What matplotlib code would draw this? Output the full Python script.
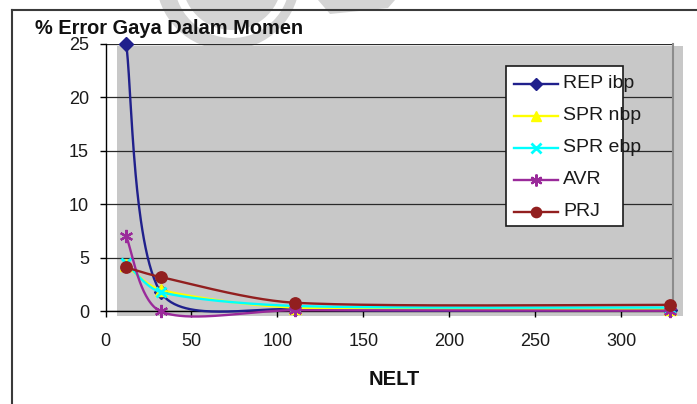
import numpy as np
import matplotlib
matplotlib.use("Agg")
import matplotlib.pyplot as plt
from matplotlib.patches import Rectangle, Wedge, Circle, Polygon

plt.rcParams['font.family'] = ['Liberation Sans', 'DejaVu Sans']

# ---- data -------------------------------------------------------------
nelt = [12, 32, 110, 328]
series_names = ["REP ibp", "SPR nbp", "SPR ebp", "AVR", "PRJ"]
rep_ibp = [25.0, 1.8, 0.2, 0.1]
spr_nbp = [4.3, 2.0, 0.35, 0.25]
spr_ebp = [4.5, 1.8, 0.5, 0.35]
avr = [7.0, 0.0, 0.1, 0.05]
prj = [4.1, 3.2, 0.8, 0.6]

x_ticks = [0, 50, 100, 150, 200, 250, 300]
y_ticks = [0, 5, 10, 15, 20, 25]
title = "% Error Gaya Dalam Momen"
x_label = "NELT"

series_values = [rep_ibp, spr_nbp, spr_ebp, avr, prj]
styles = [
    dict(color='#20208C', marker='D', ms=6.8, mfc='#20208C', mec='#20208C', mew=1),
    dict(color='#FFFF00', marker='^', ms=8, mfc='#FFFF00', mec='#FFFF00', mew=1),
    dict(color='#00FFFF', marker='x', ms=7.5, mfc='#00FFFF', mec='#00FFFF', mew=2),
    dict(color='#9A2A9A', marker=(6, 2, 0), ms=9.5, mfc='#9A2A9A', mec='#9A2A9A', mew=1.6),
    dict(color='#921F1F', marker='o', ms=8.2, mfc='#921F1F', mec='#921F1F', mew=1),
]

W, H = 697, 404
fig = plt.figure(figsize=(W / 100, H / 100), dpi=100)


def frac(x0, y0, x1, y1):
    """Pixel box (top-left origin) -> figure fraction [left, bottom, width, height]."""
    return [x0 / W, 1 - y1 / H, (x1 - x0) / W, (y1 - y0) / H]


# background layer: watermark, chart frame, titles
bg = fig.add_axes([0, 0, 1, 1], zorder=0)
bg.set_xlim(0, W)
bg.set_ylim(H, 0)
bg.axis('off')

wm = '#D4D4D4'
bg.add_patch(Circle((228, -22), 72, fc=wm, ec='none', zorder=0))
bg.add_patch(Wedge((232, -20), 58, 0, 360, width=8, fc='white', ec='none', zorder=0.1))
bg.add_patch(Polygon([[318, 0], [395, 0], [388, 8], [330, 14]], closed=True,
                     fc=wm, ec='none', zorder=0))

bg.plot([12, 12], [10, H + 5], color='#3a3a3a', lw=1.5, zorder=1)
bg.plot([12, W + 5], [10, 10], color='#3a3a3a', lw=1.5, zorder=1)

bg.text(35, 33.5, title, fontsize=14.4, fontweight='bold', ha='left', va='baseline',
        color='#111111', zorder=2)
bg.text(394, 385, x_label, fontsize=14.5, fontweight='bold', ha='center', va='baseline',
        color='#111111', zorder=2)

# main plot area
ax = fig.add_axes(frac(105.5, 43.5, 673, 311.3), zorder=1)
ax.set_facecolor('none')
ax.set_xlim(0, 330)
ax.set_ylim(0, 25)
ax.set_xticks(x_ticks)
ax.set_yticks(y_ticks)
ax.tick_params(direction='out', length=4.3, width=1, colors='black', labelsize=13,
               labelcolor='#1a1a1a')
ax.tick_params(axis='x', pad=11)
ax.tick_params(axis='y', pad=7.5)
ax.spines['top'].set_visible(False)
ax.spines['right'].set_color('#8c8c8c')
ax.spines['right'].set_linewidth(1.5)
for s in ('left', 'bottom'):
    ax.spines[s].set_color('black')
    ax.spines[s].set_linewidth(1.0)
ax.set_axisbelow(True)
ax.yaxis.grid(True, color='#2a2a2a', lw=0.9)

ax.add_patch(Rectangle((6.7, -0.4), 335.8 - 6.7, 24.8 + 0.4, fc='#C8C8C8', ec='none',
                       clip_on=False, zorder=0.2))


def smooth_curve(axes, xs, ys, n=60):
    """Bezier smoothing through the points, computed in display space."""
    pts = axes.transData.transform(np.column_stack([xs, ys]).astype(float))
    m = len(pts)
    out = [pts[0]]
    t = np.linspace(0, 1, n)[1:, None]
    for i in range(m - 1):
        p0 = pts[max(i - 1, 0)]
        p1 = pts[i]
        p2 = pts[i + 1]
        p3 = pts[min(i + 2, m - 1)]
        d01 = np.hypot(*(p1 - p0))
        d12 = np.hypot(*(p2 - p1))
        d23 = np.hypot(*(p3 - p2))
        f1 = min(1.0, 2 * d12 / (d01 + d12)) / 6
        f2 = min(1.0, 2 * d12 / (d12 + d23)) / 6
        c1 = p1 + f1 * (p2 - p0)
        c2 = p2 - f2 * (p3 - p1)
        seg = ((1 - t) ** 3 * p1 + 3 * (1 - t) ** 2 * t * c1
               + 3 * (1 - t) * t ** 2 * c2 + t ** 3 * p2)
        out.extend(seg)
    out = axes.transData.inverted().transform(np.array(out))
    return out[:, 0], out[:, 1]


for k, (vals, st) in enumerate(zip(series_values, styles)):
    sx, sy = smooth_curve(ax, nelt, vals)
    ax.plot(sx, sy, color=st['color'], lw=1.7, clip_on=False, zorder=3 + k,
            solid_capstyle='round')
    ax.plot(nelt, vals, ls='none', marker=st['marker'], ms=st['ms'], mfc=st['mfc'],
            mec=st['mec'], mew=st['mew'], clip_on=False, zorder=3 + k)

# legend layer
fg = fig.add_axes([0, 0, 1, 1], zorder=2)
fg.set_xlim(0, W)
fg.set_ylim(H, 0)
fg.axis('off')
fg.add_patch(Rectangle((506, 66), 117, 160, fc='white', ec='#1a1a1a', lw=1.2, zorder=1))
for k, (name, st) in enumerate(zip(series_names, styles)):
    yy = 83.5 + k * 32.0
    fg.plot([514, 558], [yy, yy], color=st['color'], lw=1.7, zorder=2)
    fg.plot([536], [yy], ls='none', marker=st['marker'], ms=st['ms'] * 0.9,
            mfc=st['mfc'], mec=st['mec'], mew=st['mew'], zorder=2)
    fg.text(563, yy, name, fontsize=14, ha='left', va='center', color='#1a1a1a', zorder=3)

fig.savefig('out.png', dpi=100)
